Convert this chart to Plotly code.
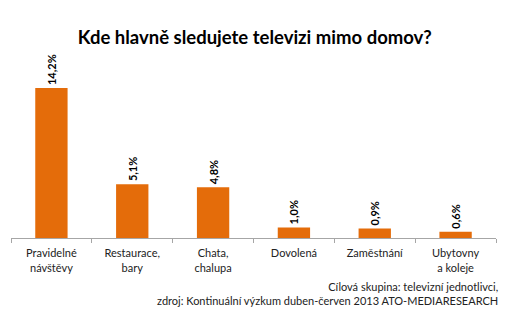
import plotly.graph_objects as go

categories = ["Pravidelné<br>návštěvy", "Restaurace,<br>bary", "Chata,<br>chalupa",
              "Dovolená", "Zaměstnání", "Ubytovny<br>a koleje"]
values = [14.2, 5.1, 4.8, 1.0, 0.9, 0.6]
labels = ["14,2%", "5,1%", "4,8%", "1,0%", "0,9%", "0,6%"]

title = "Kde hlavně sledujete televizi mimo domov?"
footnote = "Cílová skupina: televizní jednotlivci,<br>zdroj: Kontinuální výzkum duben-červen 2013 ATO-MEDIARESEARCH"

FONT = "Lato"

fig = go.Figure(go.Bar(
    x=categories, y=values, text=labels,
    textposition="outside", textangle=-90,
    textfont=dict(family=FONT, size=11, color="#000000", weight="bold"),
    marker=dict(color="#E46C0A", line=dict(width=0)),
    width=0.4, cliponaxis=False,
))

fig.update_layout(
    width=520, height=325,
    margin=dict(l=11, r=24, t=50, b=87),
    paper_bgcolor="white", plot_bgcolor="white",
    showlegend=False,
    font=dict(family=FONT, size=11, color="#222222"),
    title=dict(text="<b>" + title + "</b>", x=0.49, xanchor="center", y=0.885, yanchor="middle",
               font=dict(family=FONT, size=18.5, color="#000000")),
    xaxis=dict(showline=True, linecolor="#A6A6A6", linewidth=1, ticks="outside",
               tickson="boundaries", ticklen=4, tickcolor="#A6A6A6",
               ticklabelstandoff=5,
               tickfont=dict(family=FONT, size=11, color="#222222"), showgrid=False),
    yaxis=dict(range=[0, 17.8], visible=False, showgrid=False),
    annotations=[dict(text=footnote, xref="paper", yref="paper", x=1.008, y=-0.215,
                      xanchor="right", yanchor="top", align="right", showarrow=False,
                      font=dict(family=FONT, size=11, color="#222222"))],
)

fig.write_html("out.html")
